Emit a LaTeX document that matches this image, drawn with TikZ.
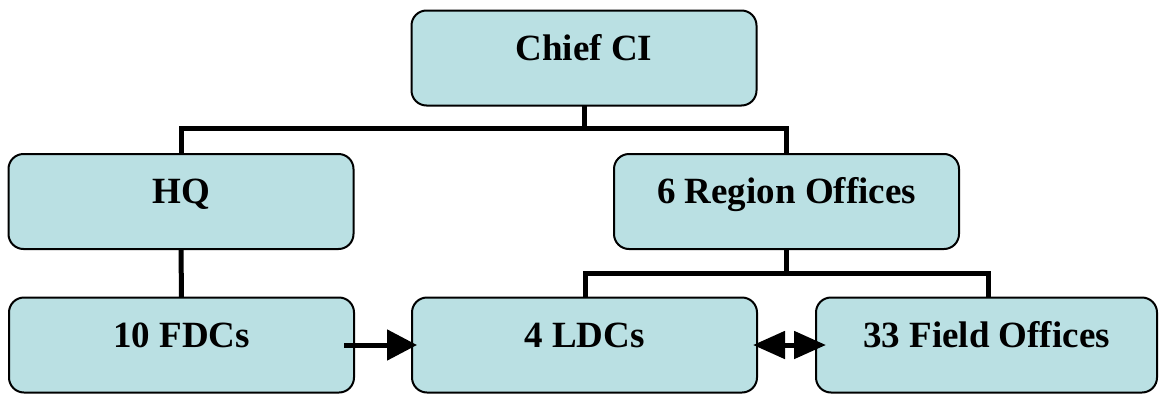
\documentclass[tikz,border=0pt]{standalone}
\usepackage{fontspec}
\setmainfont{Liberation Serif}
\usetikzlibrary{arrows.meta}
\definecolor{boxfill}{RGB}{186,224,227}
\tikzset{
  unitbox/.style={draw=black, line width=2pt, fill=boxfill, rounded corners=15pt,
    minimum width=345pt, minimum height=95pt, inner sep=0pt, outer sep=0pt},
  boxtext/.style={anchor=base, inner sep=0pt, font=\bfseries\fontsize{37}{40}\selectfont},
  conn/.style={line width=5pt, line join=miter},
  onearrow/.style={line width=5pt, -{Triangle[length=30pt,width=30pt]}},
  twoarrow/.style={line width=5pt, {Triangle[length=32pt,width=27pt]}-{Triangle[length=32pt,width=27pt]}}
}
\begin{document}
\begin{tikzpicture}[x=1pt, y=-1pt]
  \useasboundingbox (0,0) rectangle (1160,394);

  % boxes
  \node[unitbox] (chief)  at (584,58)    {};
  \node[unitbox] (hq)     at (181,201.5) {};
  \node[unitbox] (region) at (786.5,201.5) {};
  \node[unitbox] (fdc)    at (181.5,345) {};
  \node[unitbox] (ldc)    at (584.5,345) {};
  \node[unitbox, minimum width=341pt] (field) at (986.5,345) {};

  % labels, set on a common baseline inside each box
  \node[boxtext] (tchief)  at ([yshift=-50pt]chief.north)  {Chief CI};
  \node[boxtext] (thq)     at ([yshift=-49pt]hq.north)     {HQ};
  \node[boxtext] (tregion) at ([yshift=-49pt]region.north) {6 Region Offices};
  \node[boxtext] (tfdc)    at ([yshift=-50pt]fdc.north)    {10 FDCs};
  \node[boxtext] (tldc)    at ([yshift=-50pt]ldc.north)    {4 LDCs};
  \node[boxtext] (tfield)  at ([yshift=-50pt]field.north)  {33 Field Offices};

  % tree connectors
  \coordinate (j1) at (584,128);
  \coordinate (j2) at (786.5,273);
  \draw[conn] (chief.south) -- (j1);
  \draw[conn] (hq.north) |- (j1) -| (region.north);
  \draw[conn] (region.south) -- (j2);
  \draw[conn] ([xshift=1pt]ldc.north) |- (j2) -| ([xshift=1.5pt]field.north);
  \draw[conn] (hq.south) -- (fdc.north);

  % lateral arrows on the bottom row
  \draw[onearrow] ([xshift=-10pt]fdc.east) -- ([xshift=5pt]ldc.west);
  \draw[twoarrow] ([xshift=-4pt]ldc.east) -- ([xshift=10pt]field.west);
\end{tikzpicture}
\end{document}
